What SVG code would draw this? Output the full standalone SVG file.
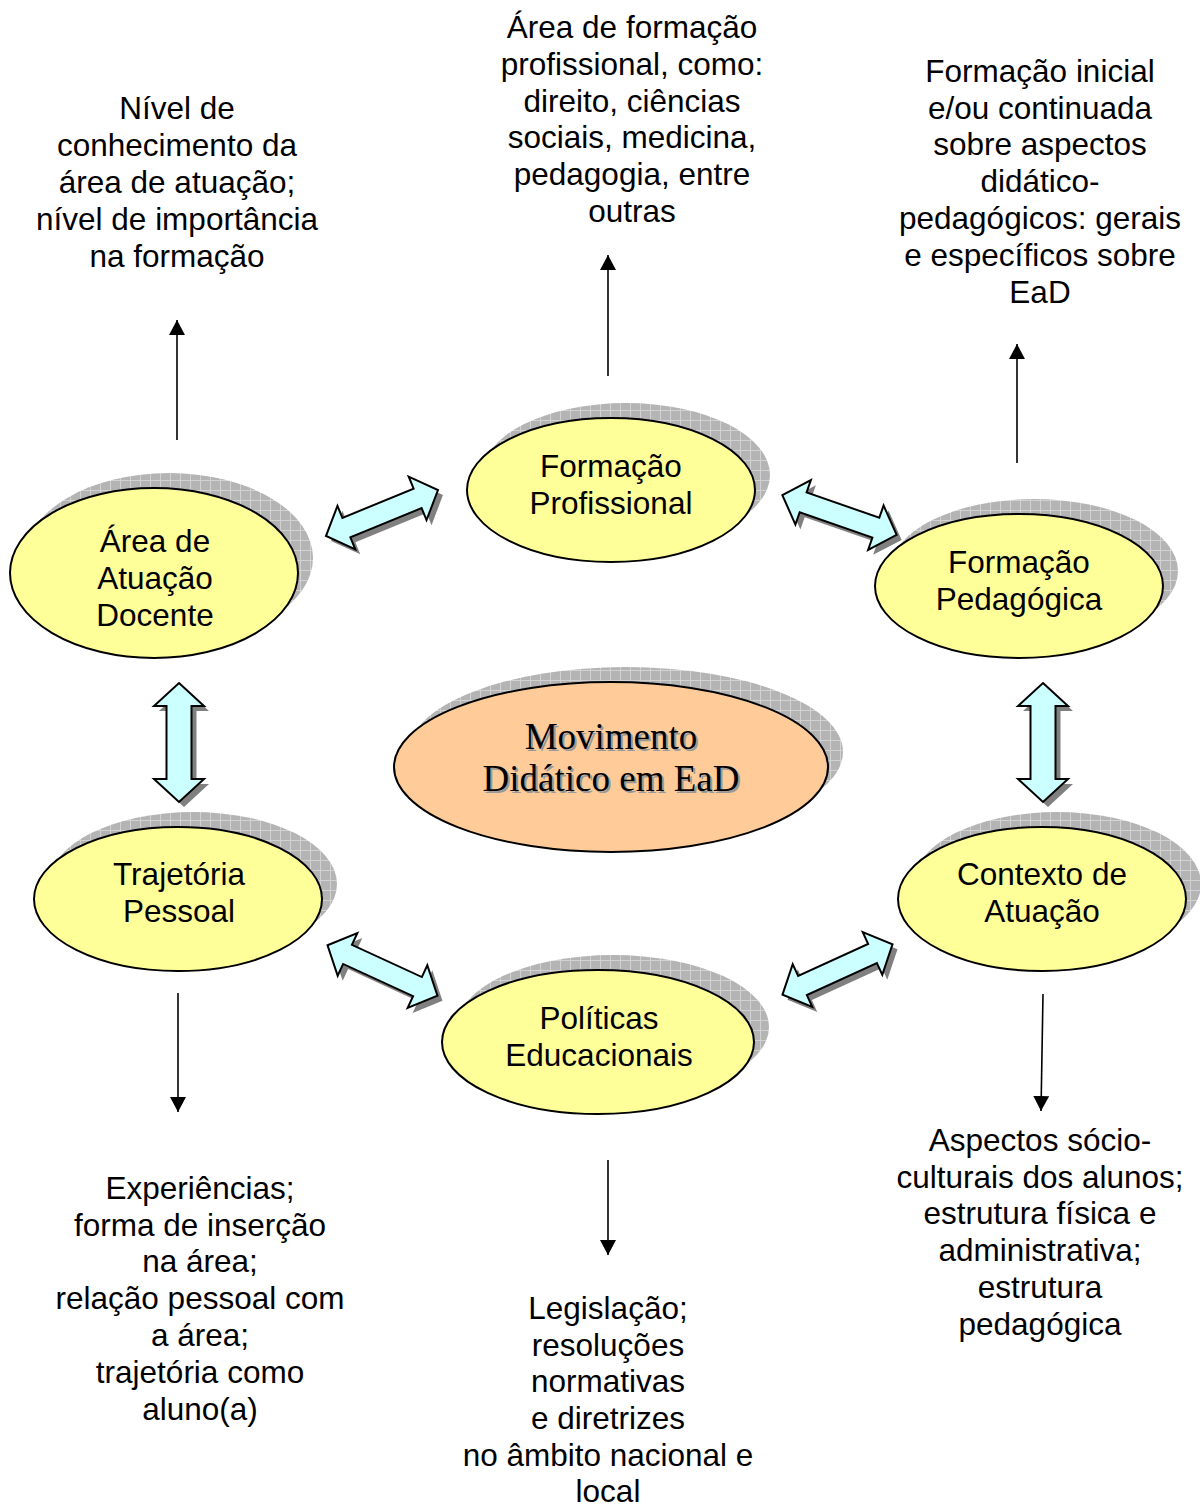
<svg xmlns="http://www.w3.org/2000/svg" xmlns:xlink="http://www.w3.org/1999/xlink" width="1200" height="1507" viewBox="0 0 1200 1507">
<defs>
<pattern id="grid" width="10" height="10" patternUnits="userSpaceOnUse">
<rect width="10" height="10" fill="#b4b4b4"/>
<path d="M0,0.5 H10 M0.5,0 V10" stroke="#d2d2d2" stroke-width="1" fill="none"/>
</pattern>
<marker id="ah" markerWidth="16" markerHeight="16" refX="15" refY="8" orient="auto" markerUnits="userSpaceOnUse" viewBox="0 0 16 16">
<path d="M0,0 L15,8 L0,16 Z" fill="#000"/>
</marker>
<path id="dblV" d="M-59.5,0 L-36.5,-25 L-36.5,-12.5 L36.5,-12.5 L36.5,-25 L59.5,0 L36.5,25 L36.5,12.5 L-36.5,12.5 L-36.5,25 Z"/>
<path id="dblD" d="M-60.5,0 L-38.5,-23.5 L-38.5,-10.5 L38.5,-10.5 L38.5,-23.5 L60.5,0 L38.5,23.5 L38.5,10.5 L-38.5,10.5 L-38.5,23.5 Z"/>
</defs>
<style>
.shadow{fill:url(#grid);stroke:none}
.node{fill:#ffff99;stroke:#000;stroke-width:2}
.center{fill:#ffcc99;stroke:#000;stroke-width:2}
.t{font-family:"Liberation Sans",Arial,sans-serif;font-size:31.5px;text-anchor:middle;fill:#000}
.ct{font-family:"Liberation Serif","Times New Roman",serif;font-size:37px;text-anchor:middle}
.dbl{fill:#ccffff;stroke:#000;stroke-width:2;stroke-linejoin:miter}
.dsh{fill:#808080;stroke:none}
.ln{stroke:#000;stroke-width:1.6;fill:none;marker-end:url(#ah)}
</style>
<rect width="1200" height="1507" fill="#fff"/>

<g id="labels">
<text class="t"><tspan x="177" y="119">Nível de</tspan><tspan x="177" y="156">conhecimento da</tspan><tspan x="177" y="193">área de atuação;</tspan><tspan x="177" y="230">nível de importância</tspan><tspan x="177" y="267">na formação</tspan></text>
<text class="t"><tspan x="632" y="38">Área de formação</tspan><tspan x="632" y="75">profissional, como:</tspan><tspan x="632" y="112">direito, ciências</tspan><tspan x="632" y="148">sociais, medicina,</tspan><tspan x="632" y="185">pedagogia, entre</tspan><tspan x="632" y="222">outras</tspan></text>
<text class="t"><tspan x="1040" y="82">Formação inicial</tspan><tspan x="1040" y="119">e/ou continuada</tspan><tspan x="1040" y="155">sobre aspectos</tspan><tspan x="1040" y="192">didático-</tspan><tspan x="1040" y="229">pedagógicos: gerais</tspan><tspan x="1040" y="266">e específicos sobre</tspan><tspan x="1040" y="303">EaD</tspan></text>
<text class="t"><tspan x="200" y="1199">Experiências;</tspan><tspan x="200" y="1236">forma de inserção</tspan><tspan x="200" y="1272">na área;</tspan><tspan x="200" y="1309">relação pessoal com</tspan><tspan x="200" y="1346">a área;</tspan><tspan x="200" y="1383">trajetória como</tspan><tspan x="200" y="1420">aluno(a)</tspan></text>
<text class="t"><tspan x="608" y="1319">Legislação;</tspan><tspan x="608" y="1356">resoluções</tspan><tspan x="608" y="1392">normativas</tspan><tspan x="608" y="1429">e diretrizes</tspan><tspan x="608" y="1466">no âmbito nacional e</tspan><tspan x="608" y="1502">local</tspan></text>
<text class="t"><tspan x="1040" y="1151">Aspectos sócio-</tspan><tspan x="1040" y="1188">culturais dos alunos;</tspan><tspan x="1040" y="1224">estrutura física e</tspan><tspan x="1040" y="1261">administrativa;</tspan><tspan x="1040" y="1298">estrutura</tspan><tspan x="1040" y="1335">pedagógica</tspan></text>
</g>

<g id="node-area">
<ellipse class="shadow" cx="169" cy="558" rx="144" ry="85"/>
<ellipse class="node" cx="154" cy="573" rx="144" ry="85"/>
<text class="t"><tspan x="155" y="552">Área de</tspan><tspan x="155" y="589">Atuação</tspan><tspan x="155" y="626">Docente</tspan></text>
</g>
<g id="node-formprof">
<ellipse class="shadow" cx="626" cy="475" rx="144" ry="72"/>
<ellipse class="node" cx="611" cy="490" rx="144" ry="72"/>
<text class="t"><tspan x="611" y="477">Formação</tspan><tspan x="611" y="514">Profissional</tspan></text>
</g>
<g id="node-formped">
<ellipse class="shadow" cx="1034" cy="571" rx="144" ry="72"/>
<ellipse class="node" cx="1019" cy="586" rx="144" ry="72"/>
<text class="t"><tspan x="1019" y="573">Formação</tspan><tspan x="1019" y="610">Pedagógica</tspan></text>
</g>
<g id="node-center">
<ellipse class="shadow" cx="626" cy="752" rx="217" ry="85"/>
<ellipse class="center" cx="611" cy="767" rx="217" ry="85"/>
<text class="ct" fill="#999"><tspan x="613" y="751">Movimento</tspan><tspan x="613" y="793">Didático em EaD</tspan></text>
<text class="ct" fill="#000"><tspan x="611" y="749">Movimento</tspan><tspan x="611" y="791">Didático em EaD</tspan></text>
</g>
<g id="node-trajetoria">
<ellipse class="shadow" cx="193" cy="884" rx="144" ry="72"/>
<ellipse class="node" cx="178" cy="899" rx="144" ry="72"/>
<text class="t"><tspan x="179" y="885">Trajetória</tspan><tspan x="179" y="922">Pessoal</tspan></text>
</g>
<g id="node-contexto">
<ellipse class="shadow" cx="1057" cy="884" rx="144" ry="72"/>
<ellipse class="node" cx="1042" cy="899" rx="144" ry="72"/>
<text class="t"><tspan x="1042" y="885">Contexto de</tspan><tspan x="1042" y="922">Atuação</tspan></text>
</g>
<g id="node-politicas">
<ellipse class="shadow" cx="613" cy="1027" rx="156" ry="72"/>
<ellipse class="node" cx="598" cy="1042" rx="156" ry="72"/>
<text class="t"><tspan x="599" y="1029">Políticas</tspan><tspan x="599" y="1066">Educacionais</tspan></text>
</g>

<g id="connectors">
<line class="ln" x1="177" y1="440" x2="177" y2="320"/>
<line class="ln" x1="608" y1="376" x2="608" y2="255"/>
<line class="ln" x1="1017" y1="463" x2="1017" y2="344"/>
<line class="ln" x1="178" y1="993" x2="178" y2="1112"/>
<line class="ln" x1="608" y1="1160" x2="608" y2="1255"/>
<line class="ln" x1="1043" y1="994" x2="1041" y2="1111"/>

<use xlink:href="#dblD" class="dsh" transform="translate(387,518) rotate(-22.3)"/>
<use xlink:href="#dblD" class="dbl" transform="translate(382,513) rotate(-22.3)"/>
<use xlink:href="#dblD" class="dsh" transform="translate(844.5,520) rotate(19.2)"/>
<use xlink:href="#dblD" class="dbl" transform="translate(839.5,515) rotate(19.2)"/>
<use xlink:href="#dblD" class="dsh" transform="translate(387.5,975.5) rotate(24.7)"/>
<use xlink:href="#dblD" class="dbl" transform="translate(382.5,970.5) rotate(24.7)"/>
<use xlink:href="#dblD" class="dsh" transform="translate(842.5,974.5) rotate(-24.6)"/>
<use xlink:href="#dblD" class="dbl" transform="translate(837.5,969.5) rotate(-24.6)"/>
<use xlink:href="#dblV" class="dsh" transform="translate(184,747.5) rotate(90)"/>
<use xlink:href="#dblV" class="dbl" transform="translate(179,742.5) rotate(90)"/>
<use xlink:href="#dblV" class="dsh" transform="translate(1048,747.5) rotate(90)"/>
<use xlink:href="#dblV" class="dbl" transform="translate(1043,742.5) rotate(90)"/>
</g>
</svg>
